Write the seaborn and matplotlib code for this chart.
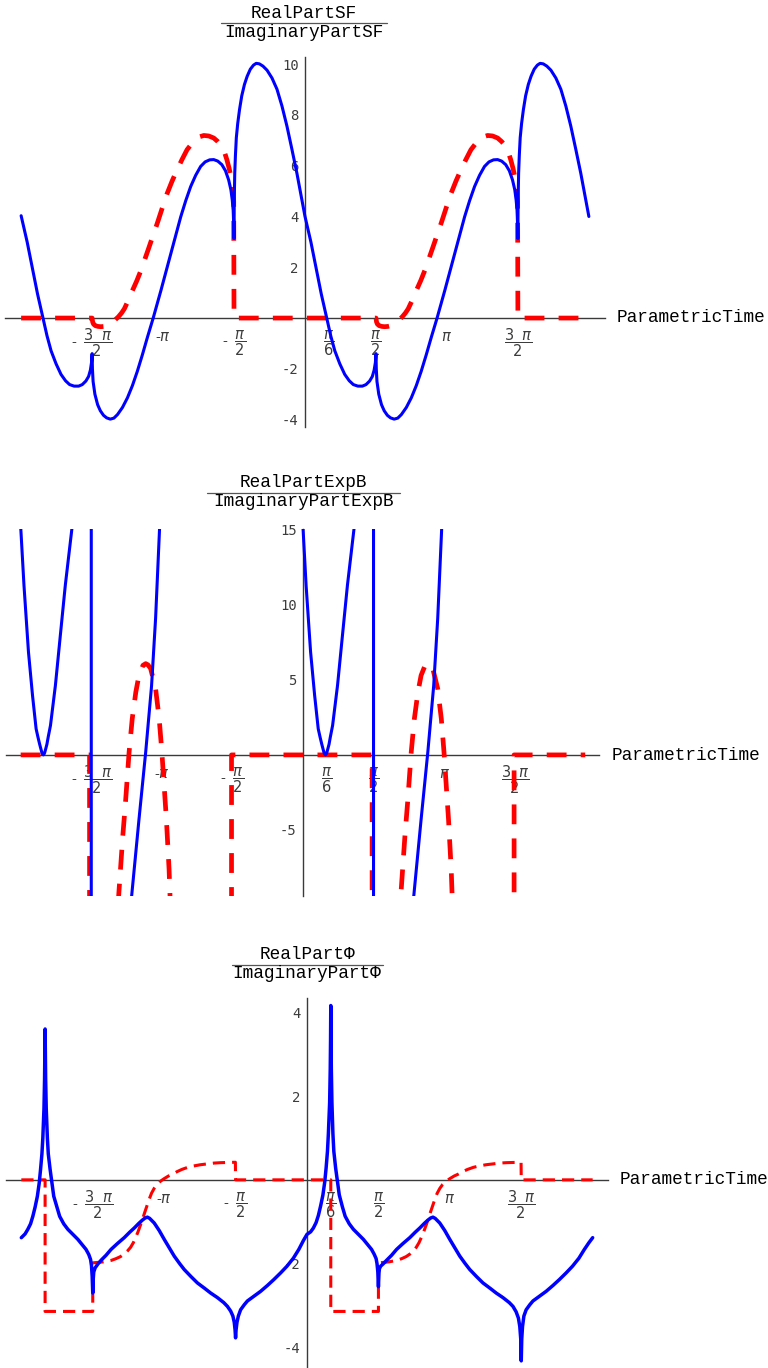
import numpy as np
import pandas as pd
import matplotlib
matplotlib.use("Agg")
import matplotlib.pyplot as plt
import seaborn as sns
from matplotlib.lines import Line2D
from matplotlib.ticker import MultipleLocator

# ---------------------------------------------------------------------------
# Curve samples (x in radians of ParametricTime)
# ---------------------------------------------------------------------------

# Panel 1: RealPartSF (solid blue) / ImaginaryPartSF (dashed red)
sf_real_x = [-6.283, -6.15, -6.05, -5.92, -5.80, -5.71, -5.62, -5.51, -5.40, -5.30,
             -5.21, -5.11, -5.01, -4.93, -4.85, -4.79, -4.75, -4.725, -4.712, -4.705,
             -4.69, -4.65, -4.59, -4.53, -4.46, -4.39, -4.31, -4.23, -4.15, -4.04,
             -3.93, -3.82, -3.71, -3.60, -3.49, -3.36, -3.19, -2.97, -2.75, -2.64,
             -2.53, -2.42, -2.31, -2.21, -2.11, -2.02, -1.93, -1.84, -1.76, -1.69,
             -1.64, -1.61, -1.59, -1.578, -1.571, -1.566, -1.555, -1.54, -1.52, -1.49,
             -1.45, -1.40, -1.34, -1.28, -1.21, -1.14, -1.08, -1.01, -0.93, -0.84,
             -0.73, -0.62, -0.51, -0.40, -0.29, -0.18, -0.09,
             0.000, 0.13, 0.23, 0.36, 0.48, 0.57, 0.66, 0.77, 0.88, 0.98,
             1.07, 1.17, 1.27, 1.35, 1.43, 1.49, 1.53, 1.558, 1.571, 1.578,
             1.593, 1.633, 1.693, 1.753, 1.823, 1.893, 1.973, 2.053, 2.133, 2.243,
             2.353, 2.463, 2.573, 2.683, 2.793, 2.923, 3.093, 3.313, 3.533, 3.643,
             3.753, 3.863, 3.973, 4.073, 4.173, 4.263, 4.353, 4.443, 4.523, 4.593,
             4.643, 4.673, 4.693, 4.705, 4.712, 4.717, 4.728, 4.743, 4.763, 4.793,
             4.833, 4.883, 4.943, 5.003, 5.073, 5.143, 5.203, 5.273, 5.353, 5.443,
             5.553, 5.663, 5.773, 5.883, 5.993, 6.103, 6.193, 6.283]
sf_real_y = [4.03, 3.00, 2.10, 0.95, 0.00, -0.70, -1.29, -1.80, -2.22, -2.47,
             -2.62, -2.68, -2.68, -2.62, -2.48, -2.30, -2.05, -1.75, -1.40, -2.00,
             -2.50, -3.00, -3.41, -3.65, -3.83, -3.93, -3.98, -3.94, -3.80, -3.52,
             -3.14, -2.66, -2.09, -1.45, -0.77, 0.00, 1.08, 2.54, 3.99, 4.62,
             5.18, 5.62, 5.97, 6.15, 6.23, 6.24, 6.18, 6.04, 5.80, 5.44,
             5.05, 4.65, 4.25, 3.70, 3.13, 4.60, 5.70, 6.40, 7.10, 7.65,
             8.20, 8.75, 9.20, 9.52, 9.80, 9.96, 10.03, 10.01, 9.92, 9.76,
             9.45, 9.01, 8.35, 7.56, 6.65, 5.71, 4.85,
             4.00, 3.00, 2.10, 0.95, 0.00, -0.70, -1.29, -1.80, -2.22, -2.47,
             -2.62, -2.68, -2.68, -2.62, -2.48, -2.30, -2.05, -1.75, -1.40, -2.00,
             -2.50, -3.00, -3.41, -3.65, -3.83, -3.93, -3.98, -3.94, -3.80, -3.52,
             -3.14, -2.66, -2.09, -1.45, -0.77, 0.00, 1.08, 2.54, 3.99, 4.62,
             5.18, 5.62, 5.97, 6.15, 6.23, 6.24, 6.18, 6.04, 5.80, 5.44,
             5.05, 4.65, 4.25, 3.70, 3.13, 4.60, 5.70, 6.40, 7.10, 7.65,
             8.20, 8.75, 9.20, 9.52, 9.80, 9.96, 10.03, 10.01, 9.92, 9.76,
             9.45, 9.01, 8.35, 7.56, 6.65, 5.71, 4.85, 4.00]

sf_imag_x = [-6.283, -4.712, -4.70, -4.68, -4.64, -4.58, -4.52, -4.45, -4.38, -4.31,
             -4.25, -4.19, -4.13, -4.06, -4.00, -3.91, -3.82, -3.72, -3.63, -3.54,
             -3.45, -3.36, -3.27, -3.16, -3.05, -2.94, -2.83, -2.72, -2.61, -2.51,
             -2.42, -2.33, -2.24, -2.13, -2.02, -1.93, -1.84, -1.78, -1.73, -1.68,
             -1.64, -1.60, -1.578, -1.571,
             1.571, 1.583, 1.603, 1.643, 1.703, 1.763, 1.833, 1.903, 1.973,
             2.033, 2.093, 2.153, 2.223, 2.283, 2.373, 2.463, 2.563, 2.653, 2.743,
             2.833, 2.923, 3.013, 3.123, 3.233, 3.343, 3.453, 3.563, 3.673, 3.773,
             3.863, 3.953, 4.043, 4.153, 4.263, 4.353, 4.443, 4.503, 4.553, 4.603,
             4.643, 4.683, 4.705, 4.712, 6.283]
sf_imag_y = [0.00, 0.00, -0.15, -0.24, -0.30, -0.33, -0.34, -0.33, -0.30, -0.24,
             -0.15, -0.05, 0.05, 0.20, 0.36, 0.70, 1.08, 1.48, 1.88, 2.34,
             2.80, 3.27, 3.73, 4.33, 4.91, 5.40, 5.84, 6.25, 6.63, 6.86,
             7.03, 7.14, 7.19, 7.17, 7.09, 6.95, 6.76, 6.52, 6.24, 5.90,
             5.57, 5.10, 4.60, 0.00,
             0.00, -0.15, -0.24, -0.30, -0.33, -0.34, -0.33, -0.30, -0.24,
             -0.15, -0.05, 0.05, 0.20, 0.36, 0.70, 1.08, 1.48, 1.88, 2.34,
             2.80, 3.27, 3.73, 4.33, 4.91, 5.40, 5.84, 6.25, 6.63, 6.86,
             7.03, 7.14, 7.19, 7.17, 7.09, 6.95, 6.76, 6.52, 6.24, 5.90,
             5.57, 5.10, 4.60, 0.00, 0.00]

# Panel 2: RealPartExpB (solid blue) / ImaginaryPartExpB (dashed red); +-40 = off-scale
expb_real_x = [-6.283, -6.21, -6.11, -6.02, -5.94, -5.90, -5.86, -5.83, -5.81, -5.795,
               -5.78, -5.765, -5.75, -5.73, -5.70, -5.67, -5.62, -5.51, -5.40, -5.29,
               -5.14, -5.00, -4.712, -4.712,
               -3.90, -3.81, -3.65, -3.50, -3.37, -3.28, -3.19, -3.00, -0.05,
               0.000, 0.07, 0.17, 0.26, 0.34, 0.38, 0.42, 0.45, 0.47, 0.485,
               0.50, 0.515, 0.53, 0.55, 0.58, 0.61, 0.66, 0.77, 0.88, 0.99,
               1.14, 1.28, 1.571, 1.571,
               2.38, 2.47, 2.63, 2.78, 2.91, 3.00, 3.09, 3.20, 6.283]
expb_real_y = [15.2, 11.3, 6.86, 3.97, 1.74, 1.20, 0.70, 0.36, 0.14, 0.04,
               0.00, 0.04, 0.14, 0.36, 0.70, 1.20, 1.96, 4.64, 7.98, 11.3,
               15.15, 40.0, 40.0, -40.0,
               -12.0, -9.3, -4.3, 0.2, 4.6, 9.1, 15.2, 40.0, 40.0,
               15.2, 11.3, 6.86, 3.97, 1.74, 1.20, 0.70, 0.36, 0.14, 0.04,
               0.00, 0.04, 0.14, 0.36, 0.70, 1.20, 1.96, 4.64, 7.98, 11.3,
               15.15, 40.0, 40.0, -40.0,
               -12.0, -9.3, -4.3, 0.2, 4.6, 9.1, 15.2, 40.0, 40.0]

expb_imag_x = [-6.283, -4.75, -4.75, -4.20, -4.10, -4.01, -3.95, -3.87, -3.80, -3.72,
               -3.65, -3.56, -3.50, -3.45, -3.39, -3.28, -3.20, -3.14, -3.09, -3.04,
               -2.98, -2.96, -2.90, -2.50, -1.59, -1.59,
               1.54, 1.54, 2.08, 2.18, 2.27, 2.33, 2.41, 2.48, 2.56,
               2.63, 2.72, 2.78, 2.83, 2.89, 3.00, 3.08, 3.14, 3.19, 3.24,
               3.30, 3.32, 3.38, 3.80, 4.70, 4.70, 6.283]
expb_imag_y = [0.0, 0.0, -40.0, -14.0, -9.29, -5.39, -3.16, 0.18, 2.41, 4.19,
               5.30, 5.97, 6.08, 6.00, 5.75, 4.41, 2.41, 0.18, -2.05, -4.28,
               -7.62, -9.29, -14.0, -40.0, -40.0, 0.0,
               0.0, -40.0, -14.0, -9.29, -5.39, -3.16, 0.18, 2.41, 4.19,
               5.30, 5.97, 6.08, 6.00, 5.75, 4.41, 2.41, 0.18, -2.05, -4.28,
               -7.62, -9.29, -14.0, -40.0, -40.0, 0.0, 0.0]

# Panel 3: RealPartPhi (solid blue) / ImaginaryPartPhi (dashed red)
phi_real_x = [-6.283, -6.20, -6.14, -6.08, -6.03, -5.98, -5.93, -5.89, -5.86, -5.83,
              -5.81, -5.785, -5.772, -5.765, -5.760, -5.755, -5.748, -5.735, -5.71, -5.69,
              -5.65, -5.61, -5.57, -5.50, -5.44, -5.35, -5.26, -5.15, -5.04, -4.95,
              -4.86, -4.80, -4.76, -4.74, -4.725, -4.712, -4.70, -4.69, -4.66, -4.60,
              -4.53, -4.42, -4.31, -4.17, -4.02, -3.90, -3.80, -3.70, -3.62, -3.56,
              -3.51, -3.46, -3.36, -3.25, -3.14, -3.03, -2.92, -2.80, -2.70, -2.55,
              -2.41, -2.25, -2.12, -1.97, -1.83, -1.75, -1.68, -1.63, -1.60, -1.582,
              -1.571, -1.560, -1.54, -1.51, -1.46, -1.38, -1.31, -1.17, -1.02, -0.87,
              -0.73, -0.58, -0.44, -0.30, -0.18, -0.08,
              0.000, 0.08, 0.14, 0.20, 0.25, 0.30, 0.35, 0.39, 0.42, 0.45,
              0.47, 0.498, 0.511, 0.518, 0.523, 0.528, 0.535, 0.548, 0.57, 0.59,
              0.63, 0.67, 0.71, 0.78, 0.84, 0.93, 1.02, 1.13, 1.24, 1.33,
              1.42, 1.48, 1.52, 1.54, 1.558, 1.571, 1.583, 1.593, 1.62, 1.68,
              1.75, 1.86, 1.97, 2.11, 2.26, 2.38, 2.48, 2.58, 2.66, 2.72,
              2.77, 2.82, 2.92, 3.03, 3.14, 3.25, 3.36, 3.48, 3.58, 3.73,
              3.87, 4.03, 4.16, 4.31, 4.45, 4.53, 4.60, 4.65, 4.68, 4.701,
              4.712, 4.723, 4.74, 4.77, 4.82, 4.90, 4.97, 5.11, 5.26, 5.41,
              5.55, 5.70, 5.84, 5.98, 6.10, 6.20, 6.283]
phi_real_y = [-1.38, -1.29, -1.18, -1.05, -0.87, -0.65, -0.39, -0.08, 0.25, 0.62,
              1.00, 1.70, 2.40, 3.00, 3.60, 3.00, 2.40, 1.70, 1.00, 0.62,
              0.25, -0.08, -0.39, -0.65, -0.87, -1.05, -1.18, -1.30, -1.42, -1.54,
              -1.66, -1.78, -1.90, -2.05, -2.30, -2.70, -2.35, -2.20, -2.10, -2.01,
              -1.92, -1.80, -1.66, -1.52, -1.38, -1.25, -1.15, -1.04, -0.96, -0.91,
              -0.89, -0.92, -1.03, -1.21, -1.42, -1.62, -1.82, -2.00, -2.14, -2.31,
              -2.46, -2.59, -2.70, -2.81, -2.93, -3.02, -3.13, -3.25, -3.40, -3.58,
              -3.77, -3.58, -3.40, -3.25, -3.10, -2.98, -2.89, -2.78, -2.66, -2.52,
              -2.38, -2.22, -2.06, -1.87, -1.66, -1.45,
              -1.30, -1.24, -1.15, -1.02, -0.85, -0.62, -0.36, -0.05, 0.28, 0.68,
              1.10, 1.85, 2.65, 3.35, 4.16, 3.35, 2.65, 1.85, 1.10, 0.68,
              0.28, -0.05, -0.36, -0.65, -0.87, -1.05, -1.18, -1.30, -1.42, -1.54,
              -1.66, -1.78, -1.88, -2.00, -2.20, -2.55, -2.22, -2.12, -2.06, -2.00,
              -1.92, -1.80, -1.66, -1.52, -1.38, -1.25, -1.15, -1.04, -0.96, -0.91,
              -0.89, -0.92, -1.03, -1.21, -1.42, -1.62, -1.82, -2.00, -2.14, -2.31,
              -2.46, -2.59, -2.70, -2.81, -2.93, -3.02, -3.15, -3.30, -3.50, -3.80,
              -4.32, -3.80, -3.50, -3.25, -3.10, -2.98, -2.89, -2.78, -2.66, -2.52,
              -2.38, -2.22, -2.06, -1.87, -1.66, -1.50, -1.38]

phi_imag_x = [-6.283, -5.76, -5.76, -4.712, -4.712, -4.60, -4.50, -4.40, -4.30, -4.20,
              -4.10, -4.02, -3.95, -3.88, -3.82, -3.77, -3.72, -3.67, -3.62, -3.57,
              -3.52, -3.47, -3.42, -3.36, -3.30, -3.22, -3.14, -3.05, -2.95, -2.85,
              -2.75, -2.62, -2.50, -2.35, -2.20, -2.05, -1.90, -1.75, -1.575, -1.571,
              0.523, 0.523, 1.571, 1.571, 1.683, 1.783, 1.883, 1.983, 2.083,
              2.183, 2.263, 2.333, 2.403, 2.463, 2.513, 2.563, 2.613, 2.663, 2.713,
              2.763, 2.813, 2.863, 2.923, 2.983, 3.063, 3.143, 3.233, 3.333, 3.433,
              3.533, 3.663, 3.783, 3.933, 4.083, 4.233, 4.383, 4.533, 4.708, 4.712,
              6.283]
phi_imag_y = [0.00, 0.00, -3.14, -3.14, -1.98, -1.97, -1.96, -1.94, -1.92, -1.88,
              -1.83, -1.77, -1.70, -1.61, -1.50, -1.38, -1.25, -1.10, -0.95, -0.78,
              -0.62, -0.46, -0.32, -0.20, -0.11, -0.03, 0.03, 0.09, 0.14, 0.20,
              0.25, 0.30, 0.33, 0.36, 0.38, 0.40, 0.41, 0.415, 0.42, 0.00,
              0.00, -3.14, -3.14, -1.98, -1.97, -1.96, -1.94, -1.92, -1.88,
              -1.83, -1.77, -1.70, -1.61, -1.50, -1.38, -1.25, -1.10, -0.95, -0.78,
              -0.62, -0.46, -0.32, -0.20, -0.11, -0.03, 0.03, 0.09, 0.14, 0.20,
              0.25, 0.30, 0.33, 0.36, 0.38, 0.40, 0.41, 0.415, 0.42, 0.00,
              0.00]

# Axis ticks and labels
x_tick_values = [-1.5 * np.pi, -np.pi, -0.5 * np.pi, np.pi / 6, 0.5 * np.pi, np.pi, 1.5 * np.pi]
x_tick_labels = [r"-  $\dfrac{3\;\;\pi}{2}$", r"-$\pi$", r"-  $\dfrac{\pi}{2}$", r"$\dfrac{\pi}{6}$",
                 r"$\dfrac{\pi}{2}$", r"$\pi$", r"$\dfrac{3\;\;\pi}{2}$"]
sf_y_ticks = [-4, -2, 2, 4, 6, 8, 10]
expb_y_ticks = [-5, 5, 10, 15]
phi_y_ticks = [-4, -2, 2, 4]

titles = [("RealPartSF", "ImaginaryPartSF"),
          ("RealPartExpB", "ImaginaryPartExpB"),
          ("RealPart\u03a6", "ImaginaryPart\u03a6")]
axis_name = "ParametricTime"

# ---------------------------------------------------------------------------
sns.set_style("white")
plt.rcParams["font.family"] = ["Liberation Sans", "DejaVu Sans"]
plt.rcParams["mathtext.fontset"] = "dejavusans"
plt.rcParams["axes.unicode_minus"] = False

W, H = 768, 1368
fig = plt.figure(figsize=(W / 100, H / 100), dpi=100)
fig.patch.set_facecolor("white")

MONO = ["Liberation Mono", "DejaVu Sans Mono"]
TICK_FONT = ["DejaVu Sans Mono"]
AXIS_COLOR = "#3a3a3a"
LABEL_COLOR = "#3c3c3c"


def add_axes_px(left, top, right, bottom):
    return fig.add_axes([left / W, 1 - bottom / H, (right - left) / W, (bottom - top) / H])


def style_axes(ax, xlim, ylim, yticks, yminor):
    ax.set_xlim(xlim)
    ax.set_ylim(ylim)
    ax.patch.set_visible(False)
    for s in ("top", "right"):
        ax.spines[s].set_visible(False)
    for s in ("left", "bottom"):
        ax.spines[s].set_position(("data", 0))
        ax.spines[s].set_color(AXIS_COLOR)
        ax.spines[s].set_linewidth(1.0)
        ax.spines[s].set_zorder(1)
    ax.set_yticks(yticks)
    ax.set_yticklabels([str(v) for v in yticks])
    for lab in ax.get_yticklabels():
        lab.set_family(TICK_FONT)
    ax.yaxis.set_minor_locator(MultipleLocator(yminor))
    ax.tick_params(axis="y", which="major", direction="in", length=5, width=0.8,
                   color=AXIS_COLOR, labelsize=10, labelcolor=LABEL_COLOR, pad=4.5)
    ax.tick_params(axis="y", which="minor", direction="in", length=3, width=0.6,
                   color=AXIS_COLOR)
    ax.set_xticks(x_tick_values)
    ax.set_xticklabels([])
    ax.tick_params(axis="x", which="major", direction="in", length=4, width=0.8,
                   color=AXIS_COLOR)
    ax.tick_params(axis="x", which="minor", length=0)
    ax.set_xlabel("")
    ax.set_ylabel("")
    for t, lab in zip(x_tick_values, x_tick_labels):
        off = -13.5 if "frac" not in lab else -18.0
        ax.annotate(lab, xy=(t, 0), xycoords="data", xytext=(0, off),
                    textcoords="offset points", ha="center", va="center",
                    fontsize=10.5, color=LABEL_COLOR, zorder=0.5)


def add_title(cx, y_num, y_line, y_den, half_w, num, den):
    fig.text(cx / W, 1 - y_num / H, num, ha="center", va="baseline",
             family=MONO, fontsize=12.8, color="black")
    fig.text(cx / W, 1 - y_den / H, den, ha="center", va="baseline",
             family=MONO, fontsize=12.8, color="black")
    fig.add_artist(Line2D([(cx - half_w) / W, (cx + half_w) / W],
                          [1 - y_line / H, 1 - y_line / H],
                          transform=fig.transFigure, color="#555555", lw=0.9))


def draw(ax, xs, ys, color, lw, dashes=None):
    kw = dict(x=xs, y=ys, sort=False, estimator=None, color=color, linewidth=lw, ax=ax)
    if dashes is not None:
        kw["linestyle"] = (0, dashes)
        kw["dash_capstyle"] = "butt"
    sns.lineplot(**kw)


BLUE = "#0000ff"
RED = "#ff0000"

# ---- Panel 1 --------------------------------------------------------------
ax1 = add_axes_px(5, 57, 605, 427)
draw(ax1, sf_imag_x, sf_imag_y, RED, 3.4, dashes=(4.2, 3.0))
draw(ax1, sf_real_x, sf_real_y, BLUE, 2.2)
style_axes(ax1, (-6.64, 6.64), (-4.29, 10.28), sf_y_ticks, 0.5)
ax1.text(617 / W, 1 - 318 / H, axis_name, transform=fig.transFigure, ha="left",
         va="center", family=MONO, fontsize=12.8, color="black")
add_title(304, 18.3, 22.7, 37.0, 83, *titles[0])

# ---- Panel 2 --------------------------------------------------------------
ax2 = add_axes_px(6, 529, 599, 896)
draw(ax2, expb_imag_x, expb_imag_y, RED, 3.4, dashes=(4.2, 3.0))
draw(ax2, expb_real_x, expb_real_y, BLUE, 2.2)
style_axes(ax2, (-6.61, 6.59), (-9.4, 15.05), expb_y_ticks, 1.0)
ax2.text(612 / W, 1 - 755 / H, axis_name, transform=fig.transFigure, ha="left",
         va="center", family=MONO, fontsize=12.8, color="black")
add_title(303.5, 487, 493, 506, 96.5, *titles[1])

# ---- Panel 3 --------------------------------------------------------------
ax3 = add_axes_px(6, 998, 608, 1368)
draw(ax3, phi_imag_x, phi_imag_y, RED, 2.2, dashes=(4.0, 2.3))
draw(ax3, phi_real_x, phi_real_y, BLUE, 2.5)
style_axes(ax3, (-6.62, 6.62), (-4.49, 4.34), phi_y_ticks, 0.5)
ax3.text(620 / W, 1 - 1180 / H, axis_name, transform=fig.transFigure, ha="left",
         va="center", family=MONO, fontsize=12.8, color="black")
add_title(307, 959, 964.5, 978, 75.5, *titles[2])

for ax in (ax1, ax2, ax3):
    leg = ax.get_legend()
    if leg is not None:
        leg.remove()

fig.savefig("out.png", dpi=100, facecolor="white")
